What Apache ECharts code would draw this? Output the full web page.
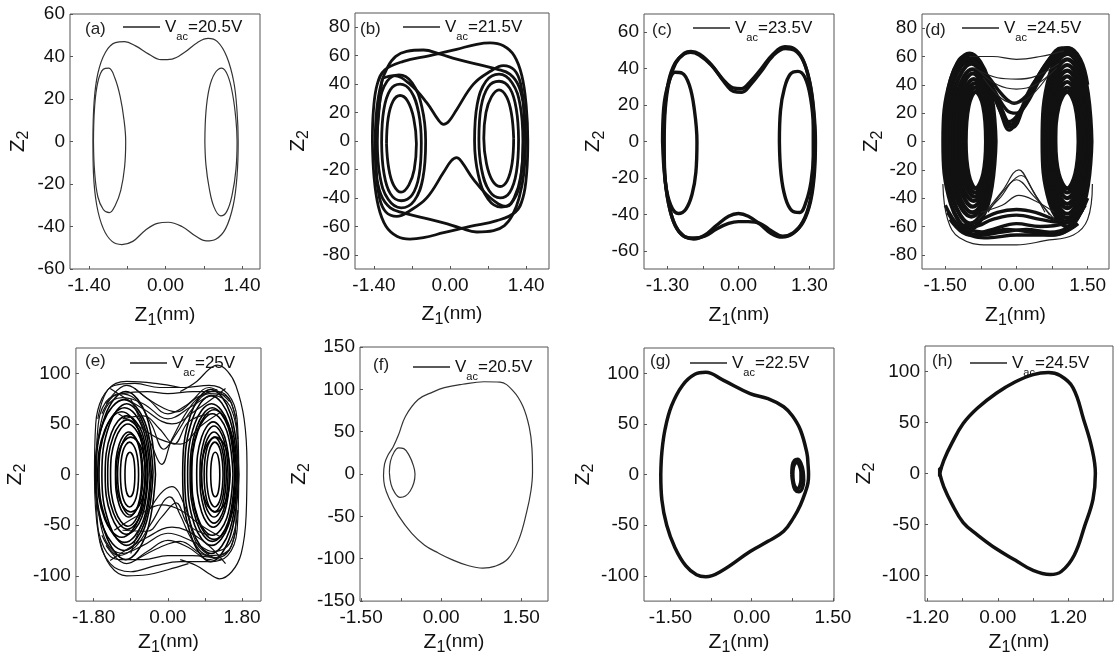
<!DOCTYPE html>
<html><head><meta charset="utf-8">
<script src="https://cdn.jsdelivr.net/npm/echarts@6.0.0/dist/echarts.min.js"></script>
<style>html,body{margin:0;padding:0;background:#fff}#c{width:1114px;height:657px}</style>
</head><body><div id="c"></div>
<script>
// ---------- tick label arrays ----------
const aXLabels=[-1.4,0,1.4], aXTicks=[-1.4,-0.7,0,0.7,1.4], aYLabels=[-60,-40,-20,0,20,40,60];
const bXLabels=[-1.4,0,1.4], bXTicks=[-1.4,-0.7,0,0.7,1.4], bYLabels=[-80,-60,-40,-20,0,20,40,60,80];
const cXLabels=[-1.3,0,1.3], cXTicks=[-1.3,-0.65,0,0.65,1.3], cYLabels=[-60,-40,-20,0,20,40,60];
const dXLabels=[-1.5,0,1.5], dXTicks=[-1.5,-0.75,0,0.75,1.5], dYLabels=[-80,-60,-40,-20,0,20,40,60,80];
const eXLabels=[-1.8,0,1.8], eXTicks=[-1.8,-0.9,0,0.9,1.8], eYLabels=[-100,-50,0,50,100];
const fXLabels=[-1.5,0,1.5], fXTicks=[-1.5,-0.75,0,0.75,1.5], fYLabels=[-150,-100,-50,0,50,100,150];
const gXLabels=[-1.5,0,1.5], gXTicks=[-1.5,-0.75,0,0.75,1.5], gYLabels=[-100,-50,0,50,100];
const hXLabels=[-1.2,0,1.2], hXTicks=[-1.2,-0.6,0,0.6,1.2,1.8], hYLabels=[-100,-50,0,50,100];
const vacLabels={a:'20.5V',b:'21.5V',c:'23.5V',d:'24.5V',e:'25V',f:'20.5V',g:'22.5V',h:'24.5V'};

// ---------- (a) ----------
const aOuter=[[-1.33,0],[-1.31,18],[-1.24,32],[-1.10,42],[-0.92,46.5],[-0.75,47],[-0.55,45],[-0.30,41],[-0.08,38.5],[0.12,38.8],[0.35,42],[0.58,46.5],[0.78,48.5],[0.95,47],[1.12,40],[1.25,28],[1.31,14],[1.33,0],[1.31,-16],[1.24,-30],[1.10,-41],[0.92,-46],[0.75,-46.8],[0.55,-44.5],[0.30,-40],[0.05,-38],[-0.15,-38.5],[-0.38,-42],[-0.60,-47],[-0.80,-48.5],[-0.98,-47],[-1.14,-41],[-1.26,-30],[-1.32,-15],[-1.33,0]];
const aLeft=[[-1.32,0],[-1.30,16],[-1.24,28],[-1.14,34],[-1.04,34.5],[-0.93,30],[-0.83,21],[-0.76,10],[-0.73,0],[-0.75,-12],[-0.82,-23],[-0.92,-30],[-1.03,-33.5],[-1.14,-32],[-1.24,-26],[-1.30,-14],[-1.32,0]];
const aRight=[[0.72,0],[0.74,14],[0.80,25],[0.90,32],[1.03,34.5],[1.14,31],[1.23,22],[1.29,10],[1.31,0],[1.29,-13],[1.22,-25],[1.12,-33],[1.01,-35],[0.89,-31],[0.80,-22],[0.74,-11],[0.72,0]];

// ---------- (b) ----------
const bLoop1=[[-1.38,0],[-1.35,22],[-1.27,40],[-1.15,52],[-1.0,59.5],[-0.80,63],[-0.49,64],[-0.18,61],[0.12,57.5],[0.49,54],[0.86,50.5],[1.10,47],[1.27,38],[1.36,22],[1.39,0],[1.36,-22],[1.27,-40],[1.15,-52],[1.0,-59.5],[0.80,-63],[0.49,-64],[0.18,-61],[-0.12,-57.5],[-0.49,-54],[-0.86,-50.5],[-1.10,-47],[-1.27,-38],[-1.36,-22],[-1.38,0]];
const bLoop2=[[-1.43,0],[-1.41,22],[-1.34,40],[-1.2,50],[-0.86,56],[-0.37,60],[0.12,64.5],[0.49,68],[0.74,69],[0.98,67],[1.18,60],[1.32,46],[1.40,25],[1.43,0],[1.41,-22],[1.34,-40],[1.2,-50],[0.86,-56],[0.37,-60],[-0.12,-64.5],[-0.49,-68],[-0.74,-69],[-0.98,-67],[-1.18,-60],[-1.32,-46],[-1.40,-25],[-1.43,0]];
const bLoopX=[[-1.25,44],[-1.04,46],[-0.74,40],[-0.43,27],[-0.22,15],[-0.12,11.7],[-0.02,14],[0.12,22],[0.43,40],[0.74,49],[0.98,53],[1.18,50],[1.30,40],[1.36,20],[1.35,0],[1.30,-25],[1.18,-40],[1.04,-46],[0.74,-40],[0.43,-27],[0.22,-15],[0.12,-11.7],[0.02,-14],[-0.12,-22],[-0.43,-40],[-0.74,-49],[-0.98,-53],[-1.18,-50],[-1.30,-40],[-1.36,-20],[-1.35,0],[-1.30,25],[-1.25,44]];
const bL1=[[-1.17,-2],[-1.14,16],[-1.05,28],[-0.92,32],[-0.78,28],[-0.67,16],[-0.62,-2],[-0.66,-20],[-0.76,-31],[-0.90,-36],[-1.04,-31],[-1.13,-19],[-1.17,-2]];
const bL2=[[-1.26,-1],[-1.22,22],[-1.10,36],[-0.92,40],[-0.72,35],[-0.58,20],[-0.53,-1],[-0.57,-24],[-0.70,-38],[-0.90,-42],[-1.10,-37],[-1.22,-22],[-1.26,-1]];
const bL3=[[-1.34,0],[-1.30,26],[-1.16,42],[-0.94,46.5],[-0.70,41],[-0.52,24],[-0.45,0],[-0.50,-26],[-0.66,-42],[-0.90,-47],[-1.14,-41],[-1.29,-25],[-1.34,0]];
const bR1=[[1.17,2],[1.14,-16],[1.05,-28],[0.92,-32],[0.78,-28],[0.67,-16],[0.62,2],[0.66,20],[0.76,31],[0.90,36],[1.04,31],[1.13,19],[1.17,2]];
const bR2=[[1.26,1],[1.22,-22],[1.10,-36],[0.92,-40],[0.72,-35],[0.58,-20],[0.53,1],[0.57,24],[0.70,38],[0.90,42],[1.10,37],[1.22,22],[1.26,1]];
const bR3=[[1.34,0],[1.30,-26],[1.16,-42],[0.94,-46.5],[0.70,-41],[0.52,-24],[0.45,0],[0.50,26],[0.66,42],[0.90,47],[1.14,41],[1.29,25],[1.34,0]];

// ---------- (c) ----------
const cOuter1=[[-1.37,0],[-1.35,18],[-1.28,33],[-1.16,43],[-1.0,48],[-0.88,49],[-0.72,47.5],[-0.50,42],[-0.28,34],[-0.10,29.5],[0.05,29],[0.22,33],[0.42,40],[0.62,47.5],[0.85,52],[1.02,51],[1.18,45],[1.30,33],[1.37,18],[1.40,0],[1.38,-18],[1.31,-33],[1.18,-44],[1.0,-50.5],[0.80,-52.5],[0.60,-50.5],[0.40,-45.5],[0.18,-41],[0,-39.5],[-0.18,-41],[-0.40,-46],[-0.62,-51.5],[-0.82,-53.5],[-1.00,-52],[-1.16,-46],[-1.28,-34],[-1.35,-18],[-1.37,0]];
const cOuter2=[[-1.36,0],[-1.34,18],[-1.27,33],[-1.15,43],[-0.99,48.5],[-0.87,49.5],[-0.71,48],[-0.49,42],[-0.27,33],[-0.09,27.5],[0.06,27],[0.23,31.5],[0.43,39],[0.63,47],[0.86,51],[1.03,50],[1.19,44],[1.31,32],[1.38,17],[1.41,0],[1.39,-18],[1.32,-33],[1.19,-44],[1.01,-50],[0.81,-52],[0.60,-49],[0.40,-45],[0.18,-44],[0,-44],[-0.18,-45],[-0.40,-48],[-0.62,-52],[-0.82,-53],[-1.00,-52],[-1.16,-46],[-1.28,-34],[-1.35,-18],[-1.36,0]];
const cLeft=[[-1.39,0],[-1.37,18],[-1.29,31],[-1.16,38],[-1.03,37.5],[-0.90,31],[-0.81,18],[-0.76,0],[-0.78,-17],[-0.85,-29],[-0.96,-37],[-1.10,-39.5],[-1.24,-35],[-1.34,-22],[-1.39,0]];
const cRight=[[0.75,0],[0.77,17],[0.84,29],[0.95,37],[1.09,38.5],[1.22,35],[1.32,24],[1.37,8],[1.37,-8],[1.33,-22],[1.24,-33],[1.12,-39],[0.98,-38],[0.86,-31],[0.78,-18],[0.75,0]];

// ---------- (d) ----------
const dL1=[[-0.64,0],[-0.70,25],[-0.86,35],[-1.01,25],[-1.07,0],[-1.01,-23],[-0.86,-33],[-0.70,-23],[-0.64,0]];
const dL6=[[-0.62,0],[-0.69,27],[-0.87,38],[-1.05,27],[-1.12,0],[-1.05,-26],[-0.87,-36],[-0.69,-26],[-0.62,0]];
const dL2=[[-0.59,0],[-0.67,29],[-0.88,41],[-1.09,29],[-1.17,0],[-1.09,-28],[-0.88,-39],[-0.67,-28],[-0.59,0]];
const dL7=[[-0.57,0],[-0.66,31],[-0.90,44],[-1.14,31],[-1.23,0],[-1.14,-31],[-0.90,-42],[-0.66,-31],[-0.57,0]];
const dL3=[[-0.54,0],[-0.65,34],[-0.92,48],[-1.18,34],[-1.29,0],[-1.18,-33],[-0.92,-46],[-0.65,-33],[-0.54,0]];
const dL8=[[-0.52,0],[-0.63,36],[-0.93,51],[-1.23,36],[-1.35,0],[-1.23,-36],[-0.93,-50],[-0.63,-36],[-0.52,0]];
const dL4=[[-0.49,0],[-0.62,39],[-0.95,55],[-1.28,39],[-1.41,0],[-1.28,-38],[-0.95,-53],[-0.62,-38],[-0.49,0]];
const dL9=[[-0.46,0],[-0.61,42],[-0.97,58],[-1.33,42],[-1.48,0],[-1.33,-41],[-0.97,-58],[-0.61,-41],[-0.46,0]];
const dL5=[[-0.44,0],[-0.60,44],[-0.99,62],[-1.38,44],[-1.54,0],[-1.38,-44],[-0.99,-62],[-0.60,-44],[-0.44,0]];
const dR1=[[1.31,0],[1.24,25],[1.07,35],[0.89,25],[0.82,0],[0.89,-23],[1.07,-33],[1.24,-23],[1.31,0]];
const dR6=[[1.34,0],[1.26,27],[1.07,38],[0.87,27],[0.79,0],[0.87,-26],[1.07,-36],[1.26,-26],[1.34,0]];
const dR2=[[1.38,0],[1.29,30],[1.07,42],[0.84,30],[0.75,0],[0.84,-28],[1.07,-40],[1.29,-28],[1.38,0]];
const dR7=[[1.41,0],[1.31,32],[1.07,46],[0.82,32],[0.72,0],[0.82,-31],[1.07,-44],[1.31,-31],[1.41,0]];
const dR3=[[1.45,0],[1.34,35],[1.07,50],[0.79,35],[0.68,0],[0.79,-33],[1.07,-47],[1.34,-33],[1.45,0]];
const dR8=[[1.49,0],[1.36,38],[1.07,54],[0.77,38],[0.65,0],[0.77,-36],[1.07,-51],[1.36,-36],[1.49,0]];
const dR4=[[1.52,0],[1.39,41],[1.07,58],[0.74,41],[0.61,0],[0.74,-38],[1.07,-54],[1.39,-38],[1.52,0]];
const dR9=[[1.55,0],[1.41,44],[1.07,62],[0.72,44],[0.58,0],[0.72,-41],[1.07,-57],[1.41,-41],[1.55,0]];
const dR5=[[1.58,0],[1.43,47],[1.07,66],[0.70,47],[0.55,0],[0.70,-43],[1.07,-60],[1.43,-43],[1.58,0]];
const dV1=[[-1.45,35],[-1.3,52],[-1.1,60],[-0.9,58],[-0.6,42],[-0.35,22],[-0.15,8],[0.05,18],[0.3,36],[0.6,54],[0.9,65],[1.1,66],[1.35,58],[1.5,40]];
const dV2=[[-1.4,40],[-1.2,55],[-1.0,61],[-0.8,55],[-0.55,40],[-0.3,22],[-0.12,12],[0.1,22],[0.35,40],[0.65,56],[0.95,66],[1.15,64],[1.4,52]];
const dV3=[[-1.3,48],[-1.05,57],[-0.8,52],[-0.5,38],[-0.2,22],[0,20],[0.2,26],[0.5,44],[0.8,58],[1.05,63],[1.3,56]];
const dV4=[[-1.2,54],[-0.9,56],[-0.6,46],[-0.3,33],[-0.05,27],[0.2,32],[0.5,46],[0.8,57],[1.1,62]];
const dV5=[[-1.35,45],[-1.1,58],[-0.85,56],[-0.6,44],[-0.35,26],[-0.16,14],[0.05,20],[0.3,38],[0.6,52],[0.9,62],[1.2,62]];
const dV6=[[-1.25,50],[-1.0,59],[-0.75,50],[-0.45,30],[-0.2,12],[-0.08,10],[0.15,24],[0.45,44],[0.75,58],[1.0,65],[1.25,60]];
const dT1=[[-1.0,60],[-0.5,60],[0,58],[0.5,60],[1.0,64]];
const dT2=[[-0.9,52],[-0.4,45],[0,44],[0.4,46],[0.9,55]];
const dT3=[[-0.8,50],[-0.4,40],[0,37],[0.4,40],[0.85,52]];
const dT4=[[-0.7,45],[-0.3,30],[0,27],[0.3,32],[0.7,48]];
const dB1=[[-1.5,-45],[-1.2,-60],[-0.8,-66],[-0.3,-64],[0.2,-62],[0.7,-64],[1.1,-60],[1.45,-45]];
const dB2=[[-1.45,-50],[-1.1,-64],[-0.6,-68],[0,-66],[0.6,-66],[1.1,-62],[1.5,-40]];
const dB3=[[-1.4,-55],[-1.0,-66],[-0.5,-62],[0,-58],[0.5,-60],[1.0,-58],[1.4,-48]];
const dB4=[[-1.3,-58],[-0.9,-60],[-0.5,-55],[0,-52],[0.5,-55],[0.9,-57],[1.3,-52]];
const dB5=[[-1.2,-60],[-0.8,-56],[-0.4,-50],[0,-48],[0.4,-50],[0.8,-55],[1.2,-58]];
const dB6=[[-1.55,-30],[-1.45,-55],[-1.2,-68],[-0.6,-73],[0,-73],[0.6,-70],[1.2,-66],[1.5,-55],[1.6,-30]];
const dB7=[[-1.1,-62],[-0.6,-64],[-0.2,-62],[0.3,-64],[0.8,-66],[1.3,-58]];
const dU1=[[-0.7,-52],[-0.3,-35],[0.05,-20],[0.3,-32],[0.6,-50]];
const dU2=[[-0.8,-55],[-0.35,-40],[0,-27],[0.35,-38],[0.8,-55]];
const dU3=[[-0.75,-50],[-0.3,-45],[0.05,-38],[0.4,-42],[0.8,-50]];
const dU4=[[-0.6,-50],[-0.2,-32],[0.1,-24],[0.4,-38],[0.7,-52]];

// ---------- (e) ----------
const eL1=[[-0.80,0],[-0.83,16],[-0.92,22],[-1.01,16],[-1.04,0],[-1.01,-16],[-0.92,-22],[-0.83,-16],[-0.80,0]];
const eL2=[[-0.71,0],[-0.77,23],[-0.93,32],[-1.09,23],[-1.15,0],[-1.09,-23],[-0.93,-32],[-0.77,-23],[-0.71,0]];
const eL3=[[-0.63,0],[-0.72,30],[-0.95,42],[-1.18,30],[-1.27,0],[-1.18,-30],[-0.95,-42],[-0.72,-30],[-0.63,0]];
const eL4=[[-0.55,2],[-0.67,36],[-0.97,50],[-1.27,35],[-1.39,0],[-1.27,-36],[-0.97,-51],[-0.67,-35],[-0.55,2]];
const eL5=[[-0.48,0],[-0.63,42],[-1.0,58],[-1.37,41],[-1.52,0],[-1.37,-41],[-1.0,-59],[-0.63,-42],[-0.48,0]];
const eL6=[[-0.43,-3],[-0.61,46],[-1.05,66],[-1.49,47],[-1.67,0],[-1.49,-46],[-1.05,-67],[-0.61,-47],[-0.43,-3]];
const eL7=[[-0.36,2],[-0.56,52],[-1.06,74],[-1.56,52],[-1.76,0],[-1.56,-53],[-1.06,-75],[-0.56,-52],[-0.36,2]];
const eL8=[[-0.54,0],[-0.64,26],[-0.90,37],[-1.16,26],[-1.26,0],[-1.16,-26],[-0.90,-37],[-0.64,-26],[-0.54,0]];
const eL9=[[-0.54,0],[-0.71,44],[-1.12,62],[-1.53,44],[-1.70,0],[-1.53,-44],[-1.12,-62],[-0.71,-44],[-0.54,0]];
const eL10=[[-0.40,0],[-0.58,49],[-1.0,70],[-1.42,49],[-1.60,0],[-1.42,-49],[-1.0,-70],[-0.58,-49],[-0.40,0]];
const eL11=[[-0.50,0],[-0.64,38],[-0.98,54],[-1.32,38],[-1.46,0],[-1.32,-38],[-0.98,-54],[-0.64,-38],[-0.50,0]];
const eL12=[[-0.60,0],[-0.69,28],[-0.91,40],[-1.13,28],[-1.22,0],[-1.13,-28],[-0.91,-40],[-0.69,-28],[-0.60,0]];
const eL13=[[-0.30,0],[-0.52,58],[-1.02,82],[-1.52,58],[-1.74,0],[-1.52,-58],[-1.02,-84],[-0.52,-58],[-0.30,0]];
const eR1=[[1.26,0],[1.23,16],[1.15,22],[1.07,16],[1.04,0],[1.07,-16],[1.15,-22],[1.23,-16],[1.26,0]];
const eR2=[[1.34,0],[1.28,23],[1.14,32],[1.0,23],[0.94,0],[1.0,-23],[1.14,-32],[1.28,-23],[1.34,0]];
const eR3=[[1.42,0],[1.33,30],[1.12,42],[0.91,30],[0.82,0],[0.91,-30],[1.12,-42],[1.33,-30],[1.42,0]];
const eR4=[[1.50,0],[1.38,37],[1.10,52],[0.82,37],[0.70,0],[0.82,-37],[1.10,-52],[1.38,-37],[1.50,0]];
const eR5=[[1.58,0],[1.43,43],[1.08,60],[0.73,43],[0.58,0],[0.73,-43],[1.08,-60],[1.43,-43],[1.58,0]];
const eR6=[[1.64,0],[1.47,50],[1.06,70],[0.65,50],[0.48,0],[0.65,-50],[1.06,-70],[1.47,-50],[1.64,0]];
const eR7=[[1.69,0],[1.50,55],[1.05,78],[0.60,55],[0.41,0],[0.60,-55],[1.05,-78],[1.50,-55],[1.69,0]];
const eR8=[[1.51,0],[1.41,26],[1.16,37],[0.91,26],[0.81,0],[0.91,-26],[1.16,-37],[1.41,-26],[1.51,0]];
const eR9=[[1.67,0],[1.51,45],[1.12,64],[0.73,45],[0.57,0],[0.73,-45],[1.12,-64],[1.51,-45],[1.67,0]];
const eR10=[[1.62,0],[1.46,47],[1.08,66],[0.70,47],[0.54,0],[0.70,-47],[1.08,-66],[1.46,-47],[1.62,0]];
const eR11=[[1.46,0],[1.36,34],[1.12,48],[0.88,34],[0.78,0],[0.88,-34],[1.12,-48],[1.36,-34],[1.46,0]];
const eR12=[[1.38,0],[1.31,26],[1.13,37],[0.95,26],[0.88,0],[0.95,-26],[1.13,-37],[1.31,-26],[1.38,0]];
const eR13=[[1.72,0],[1.52,60],[1.04,84],[0.56,60],[0.36,0],[0.56,-60],[1.04,-86],[1.52,-60],[1.72,0]];
const eShell1=[[-1.78,0],[-1.75,50],[-1.6,75],[-1.3,88],[-0.8,90],[-0.2,86],[0.4,86],[1.0,88],[1.45,80],[1.68,55],[1.72,0],[1.68,-55],[1.45,-80],[1.0,-86],[0.3,-86],[-0.3,-90],[-0.9,-96],[-1.4,-88],[-1.68,-60],[-1.78,0]];
const eShell2=[[-1.74,0],[-1.7,45],[-1.5,72],[-1.1,80],[-0.5,82],[0,80],[0.6,82],[1.2,82],[1.55,70],[1.68,30],[1.66,-35],[1.55,-70],[1.2,-82],[0.6,-80],[0,-80],[-0.6,-84],[-1.2,-84],[-1.55,-72],[-1.72,-40],[-1.74,0]];
const eX1=[[-1.6,60],[-1.2,80],[-0.8,75],[-0.4,50],[-0.1,25],[0.2,40],[0.6,65],[1.0,80],[1.4,78],[1.65,55]];
const eX2=[[-1.6,-60],[-1.2,-80],[-0.8,-72],[-0.4,-48],[0.05,-22],[0.3,-40],[0.6,-65],[1.0,-80],[1.4,-78],[1.65,-55]];
const eX3=[[-1.5,70],[-1.0,88],[-0.5,75],[0,60],[0.5,70],[1.0,86],[1.5,72]];
const eX4=[[-1.5,-70],[-1.0,-88],[-0.5,-76],[0,-65],[0.5,-72],[1.0,-84],[1.5,-74]];
const eX5=[[-1.2,60],[-0.6,45],[-0.2,35],[0.3,30],[0.8,48],[1.3,62]];
const eX6=[[-1.3,-55],[-0.7,-40],[-0.15,-30],[0.3,-35],[0.8,-50],[1.3,-62]];
const eX7=[[-0.9,75],[-0.4,30],[-0.15,10],[0.1,35],[0.6,70],[1.0,82]];
const eX8=[[-0.9,-78],[-0.45,-35],[0.1,-12],[0.4,-30],[0.7,-68],[1.1,-82]];
const eX9=[[-1.4,85],[-0.6,65],[0.1,50],[0.7,64],[1.4,85]];
const eX10=[[-1.4,-85],[-0.5,-62],[0.1,-52],[0.8,-64],[1.4,-88]];
const eX11=[[-1.7,30],[-1.5,66],[-1.1,76],[-0.6,70],[0,55],[0.6,68],[1.1,78],[1.5,68],[1.7,35]];
const eX12=[[-1.7,-30],[-1.5,-66],[-1.1,-78],[-0.6,-70],[0,-58],[0.6,-66],[1.1,-76],[1.5,-68],[1.7,-35]];
const eX13=[[-1.1,55],[-0.6,58],[-0.2,45],[0.15,30],[0.5,52],[1.0,60]];
const eX14=[[-1.1,-55],[-0.5,-56],[-0.15,-42],[0.2,-28],[0.5,-50],[1.0,-60]];
const eX15=[[-0.8,85],[-0.3,70],[0.2,62],[0.7,76],[1.2,84]];
const eX16=[[-0.8,-85],[-0.2,-72],[0.3,-66],[0.8,-78],[1.3,-84]];
const eOut=[[0.3,82],[0.7,92],[1.0,104],[1.2,108],[1.45,102],[1.65,88],[1.85,55],[1.92,10],[1.9,-40],[1.78,-78],[1.55,-96],[1.25,-103],[1.0,-98],[0.7,-90],[0.3,-84]];
const eBot=[[-1.65,-65],[-1.4,-90],[-1.0,-100],[-0.5,-99],[0,-94],[0.5,-88]];
const eTop=[[-1.7,55],[-1.45,84],[-1.0,92],[-0.3,90],[0.3,86]];

// ---------- (f) ----------
const fBig=[[-1.08,-2],[-1.06,12],[-1.0,22],[-0.90,32],[-0.80,46],[-0.67,68],[-0.43,88],[-0.15,97],[0.06,102],[0.4,106],[0.8,109],[1.10,108.5],[1.35,98],[1.53,80],[1.65,55],[1.70,30],[1.71,2],[1.68,-20],[1.60,-45],[1.45,-78],[1.25,-100],[1.0,-109],[0.78,-111],[0.5,-108],[0.2,-101],[-0.06,-93],[-0.31,-84],[-0.55,-70],[-0.80,-49],[-0.98,-28],[-1.06,-14],[-1.08,-2]];
const fSmall=[[-0.97,2],[-0.95,15],[-0.88,26],[-0.80,31],[-0.70,30],[-0.60,22],[-0.52,10],[-0.49,0],[-0.51,-10],[-0.58,-20],[-0.67,-26],[-0.77,-27.5],[-0.87,-22],[-0.94,-12],[-0.97,2]];

// ---------- (g) ----------
const gBig=[[-1.68,0],[-1.66,-25],[-1.57,-50],[-1.42,-72],[-1.22,-90],[-1.02,-99],[-0.85,-101],[-0.55,-95],[-0.03,-76],[0.30,-66],[0.59,-56],[0.78,-42],[0.90,-30],[0.99,-17.5],[1.04,-8],[1.05,0],[1.04,10],[1.02,21],[0.90,44],[0.75,58],[0.59,67],[0.30,75],[-0.03,80],[-0.52,93],[-0.85,101],[-1.05,99],[-1.28,88],[-1.48,68],[-1.60,45],[-1.66,22],[-1.68,0]];
const gSmall=[[0.76,0],[0.77,7],[0.80,11],[0.84,12],[0.88,9],[0.91,2],[0.91,-5],[0.89,-11],[0.85,-14],[0.80,-12],[0.77,-7],[0.76,0]];
const gSmall2=[[0.74,0],[0.75,9],[0.79,14],[0.85,15],[0.91,11],[0.95,3],[0.96,-6],[0.93,-14],[0.87,-17],[0.80,-15],[0.76,-8],[0.74,0]];

// ---------- (h) ----------
const hLoop=[[-0.99,0],[-0.92,13],[-0.78,30],[-0.59,49],[-0.35,64],[-0.02,79],[0.30,90],[0.60,97],[0.86,99],[1.06,96],[1.28,84],[1.46,53],[1.60,25],[1.66,0],[1.62,-25],[1.48,-51],[1.30,-80],[1.08,-96],[0.89,-99],[0.60,-95],[0.30,-85],[-0.02,-74],[-0.35,-60],[-0.59,-48],[-0.78,-30],[-0.92,-13],[-0.99,0]];
const hNotch=[[-0.99,-3],[-0.99,5],[-0.95,5]];

// ---------- layout / style ----------
const FONT='"Liberation Sans", Arial, sans-serif';
const panels=[
 {key:'a',box:[70,14,190,255],xr:[-1.75,1.73],yr:[-60,60],xl:aXLabels,xt:aXTicks,yl:aYLabels,tag:[85,21],leg:[123,12],gy:40,gx:34,
  sets:[[1.2,'#333',[aOuter,aLeft,aRight]]]},
 {key:'b',box:[355,13,194,256],xr:[-1.75,1.82],yr:[-90,90],xl:bXLabels,xt:bXTicks,yl:bYLabels,tag:[360,21],leg:[403,12],gy:45,gx:33,
  sets:[[2.8,'#111',[bLoop1,bLoop2,bLoopX,bL1,bL2,bL3,bR1,bR2,bR3]]]},
 {key:'c',box:[644,14,190,255],xr:[-1.73,1.75],yr:[-70,70],xl:cXLabels,xt:cXTicks,yl:cYLabels,tag:[652,22],leg:[693,13],gy:36,gx:34,
  sets:[[3.4,'#111',[cOuter1,cOuter2,cLeft,cRight]]]},
 {key:'d',box:[922,14,187,255],xr:[-1.99,1.95],yr:[-90,90],xl:dXLabels,xt:dXTicks,yl:dYLabels,tag:[925,22],leg:[962,13],gy:36,gx:34,
  sets:[[4.2,'#111',[dL1,dL6,dL2,dL7,dL3,dL8,dL4,dL9,dL5,dR1,dR6,dR2,dR7,dR3,dR8,dR4,dR9,dR5]],[3.4,'#111',[dV1,dV2,dV3,dV4,dV5,dV6,dB1,dB2,dB3,dB4,dB5,dB7]],[1.2,'#222',[dT1,dT2,dT3,dT4,dB6,dU1,dU2,dU3,dU4]]]},
 {key:'e',box:[72,348,189,255],xr:[-2.23,2.26],yr:[-125,125],xl:eXLabels,xt:eXTicks,yl:eYLabels,tag:[85,353],leg:[130,348],gy:29,gx:21,
  sets:[[1.6,'#000',[eL1,eL2,eL3,eL4,eL5,eL6,eL7,eL8,eL9,eL10,eL11,eL12,eL13,eR1,eR2,eR3,eR4,eR5,eR6,eR7,eR8,eR9,eR10,eR11,eR12,eR13]],[1.2,'#111',[eShell1,eShell2,eX1,eX2,eX3,eX4,eX5,eX6,eX7,eX8,eX9,eX10,eX11,eX12,eX13,eX14,eX15,eX16,eOut,eBot,eTop]]]},
 {key:'f',box:[360,347,188,256],xr:[-1.52,2.0],yr:[-150,150],xl:fXLabels,xt:fXTicks,yl:fYLabels,tag:[373,357],leg:[413,352],gy:42,gx:21,
  sets:[[1.2,'#333',[fBig,fSmall]]]},
 {key:'g',box:[644,348,190,256],xr:[-1.99,1.52],yr:[-125,125],xl:gXLabels,xt:gXTicks,yl:gYLabels,tag:[650,353],leg:[690,348],gy:36,gx:21,
  sets:[[3.5,'#111',[gBig,gSmall,gSmall2]]]},
 {key:'h',box:[925,346,188,257],xr:[-1.24,1.96],yr:[-125,125],xl:hXLabels,xt:hXTicks,yl:hYLabels,tag:[932,353],leg:[970,348],gy:32,gx:21,
  sets:[[3.5,'#111',[hLoop,hNotch]]]}
];

const nameRich={z:{fontSize:21,lineHeight:24,fontFamily:FONT,color:'#111'},
  s:{fontSize:16,lineHeight:18,padding:[12,0,0,0],fontFamily:FONT,color:'#111'},
  n:{fontSize:19,lineHeight:22,fontFamily:FONT,color:'#111'}};
const legRich={v:{fontSize:17,lineHeight:20,fontFamily:FONT,color:'#111'},
  s:{fontSize:11,lineHeight:12,padding:[19,0,0,0],fontFamily:FONT,color:'#111'}};

const grid=[],xAxis=[],yAxis=[],series=[],legend=[],title=[];
panels.forEach((p,i)=>{
  grid.push({left:p.box[0],top:p.box[1],width:p.box[2],height:p.box[3],show:true,borderColor:'#555',borderWidth:1,backgroundColor:'transparent'});
  xAxis.push({type:'value',gridIndex:i,min:p.xr[0],max:p.xr[1],
    axisLine:{show:false,onZero:false},splitLine:{show:false},
    axisTick:{show:true,inside:true,length:3,customValues:p.xt,lineStyle:{color:'#555'}},
    axisLabel:{customValues:p.xl,formatter:v=>v.toFixed(2),margin:7,fontSize:19,fontFamily:FONT,color:'#111'},
    name:'{z|Z}{s|1}{n|(nm)}',nameLocation:'middle',nameGap:p.gx,nameTextStyle:{rich:nameRich}});
  yAxis.push({type:'value',gridIndex:i,min:p.yr[0],max:p.yr[1],
    axisLine:{show:false,onZero:false},splitLine:{show:false},
    axisTick:{show:true,inside:true,length:3,customValues:p.yl,lineStyle:{color:'#555'}},
    axisLabel:{customValues:p.yl,formatter:v=>String(v),margin:5,fontSize:19,fontFamily:FONT,color:'#111'},
    name:'{z|Z}{s|2}',nameLocation:'middle',nameRotate:90,nameGap:p.gy,nameTextStyle:{rich:nameRich}});
  p.sets.forEach(([lw,col,loops])=>{
    loops.forEach(loop=>series.push({type:'line',name:p.key,xAxisIndex:i,yAxisIndex:i,data:loop,
      symbol:'none',smooth:0.4,silent:true,lineStyle:{width:lw,color:col},itemStyle:{color:col}}));
  });
  legend.push({data:[p.key],left:p.leg[0],top:p.leg[1],itemWidth:37,itemHeight:14,padding:0,selectedMode:false,
    icon:'path://M0,0h37v1.3h-37z',itemStyle:{color:'#222'},
    formatter:()=>'{v|V}{s|ac}{v|='+vacLabels[p.key]+'}',textStyle:{rich:legRich}});
  title.push({text:'('+p.key+')',left:p.tag[0],top:p.tag[1],padding:0,
    textStyle:{fontSize:17,fontWeight:'normal',color:'#222',fontFamily:FONT}});
});

const chart=echarts.init(document.getElementById('c'),null,{renderer:'canvas'});
chart.setOption({animation:false,backgroundColor:'#fff',grid,xAxis,yAxis,series,legend,title});
</script></body></html>
